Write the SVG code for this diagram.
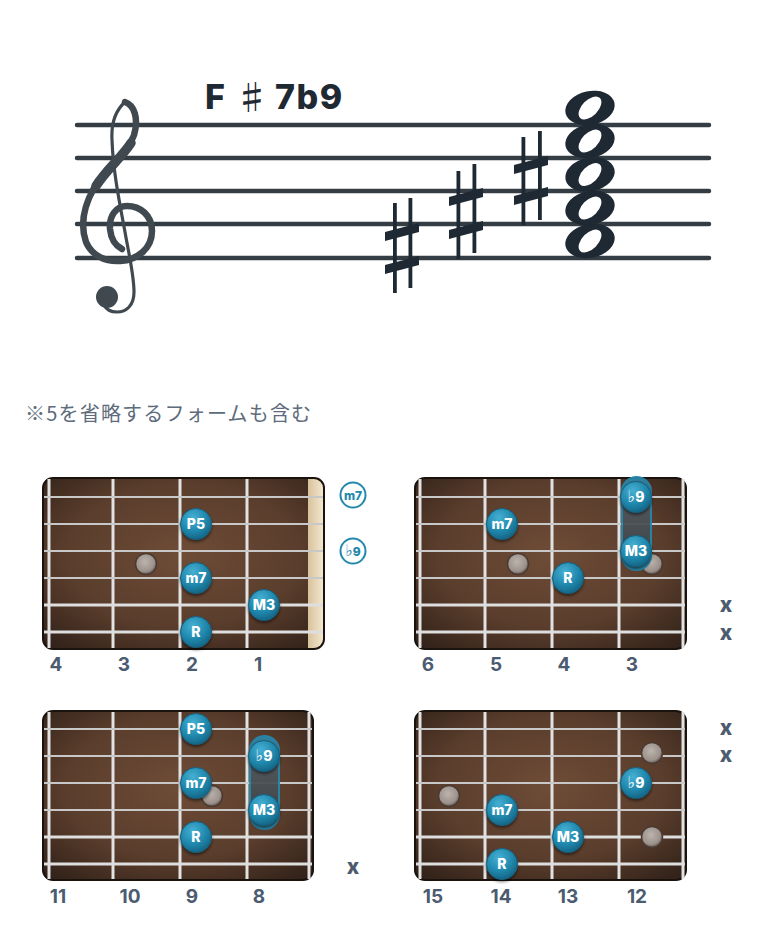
<svg xmlns="http://www.w3.org/2000/svg" width="780" height="946" viewBox="0 0 780 946">
<defs>
<radialGradient id="wood" cx="50%" cy="45%" r="70%">
<stop offset="0" stop-color="#6e4c37"/>
<stop offset="0.6" stop-color="#5a3d2c"/>
<stop offset="1" stop-color="#33231a"/>
</radialGradient>
<radialGradient id="note" cx="40%" cy="30%" r="75%">
<stop offset="0" stop-color="#45b0d3"/>
<stop offset="0.6" stop-color="#1f86ab"/>
<stop offset="1" stop-color="#14607f"/>
</radialGradient>
<radialGradient id="gray" cx="45%" cy="40%" r="60%">
<stop offset="0" stop-color="#bdb4ae"/>
<stop offset="0.75" stop-color="#9c918b"/>
<stop offset="1" stop-color="#5e524b"/>
</radialGradient>
<linearGradient id="barre" x1="0" y1="0" x2="0" y2="1">
<stop offset="0" stop-color="#2b88aa"/>
<stop offset="0.3" stop-color="#50585d"/>
<stop offset="0.7" stop-color="#434a4f"/>
<stop offset="1" stop-color="#2b88aa"/>
</linearGradient>
<linearGradient id="nut" x1="0" y1="0" x2="1" y2="0">
<stop offset="0" stop-color="#d8c29c"/>
<stop offset="1" stop-color="#f3e7cf"/>
</linearGradient>
<filter id="sh" x="-30%" y="-30%" width="160%" height="170%">
<feDropShadow dx="0" dy="2" stdDeviation="1.5" flood-color="#000" flood-opacity="0.5"/>
</filter>
<style>
.staff{stroke:#343c44;stroke-width:4.5;stroke-linecap:round;fill:none}
.sym{fill:#1f2933}
.clef{fill:none;stroke:#40494f;stroke-linecap:round;stroke-linejoin:round}
.board{fill:url(#wood);stroke:#1a120d;stroke-width:2}
.fret{stroke:#e2e2e2;stroke-width:3}
.str{stroke:#c8c8c8;stroke-width:2}
.strw{stroke:#dedede;stroke-width:3}
.nt{fill:url(#note);stroke:#14607f;stroke-width:1;filter:url(#sh)}
.nl{font-family:Inter,"Liberation Sans","DejaVu Sans",sans-serif;font-weight:800;font-size:14px;fill:#ffffff;text-anchor:middle}
.fl{font-family:"DejaVu Sans",sans-serif;font-weight:400;font-size:16px}
.gd{fill:url(#gray);stroke:#4a3b32;stroke-width:1.5}
.br{fill:url(#barre);stroke:#2488ad;stroke-width:2;opacity:0.95}
.num{font-family:Inter,"Liberation Sans",sans-serif;font-weight:700;font-size:19px;fill:#4b5b70;text-anchor:middle}
.mx{font-family:Inter,"Liberation Sans",sans-serif;font-weight:800;font-size:21px;fill:#4b5b70;text-anchor:middle}
.open{fill:#ffffff;stroke:#2488ad;stroke-width:2}
.ol{font-family:Inter,"Liberation Sans","DejaVu Sans",sans-serif;font-weight:800;font-size:12px;fill:#2488ad;text-anchor:middle}
</style>
</defs>
<rect width="780" height="946" fill="#ffffff"/>

<g id="staff">
<text x="205" y="109" font-family="Inter,'Liberation Sans',sans-serif" font-weight="800" font-size="34" fill="#1f2933" letter-spacing="1.5">F<tspan x="235" y="110" font-family="'Noto Sans CJK JP','DejaVu Sans',sans-serif" font-weight="500" font-size="34" letter-spacing="0">♯</tspan><tspan x="275" y="109">7b9</tspan></text>
<line class="staff" x1="77" y1="125" x2="709" y2="125"/>
<line class="staff" x1="77" y1="158" x2="709" y2="158"/>
<line class="staff" x1="77" y1="191" x2="709" y2="191"/>
<line class="staff" x1="77" y1="224" x2="709" y2="224"/>
<line class="staff" x1="77" y1="258" x2="709" y2="258"/>
<g id="clef">
<path class="clef" stroke-width="3.2" d="M125,102 C116,110 111,122 112,140 C113,170 119,200 125,232 C129,255 134,275 134,292 C134,306 126,312 117,312 C111,312 106,309 104,305"/>
<circle cx="107" cy="297" r="11" fill="#40494f"/>
<path class="clef" stroke-width="6.5" d="M125,102 C134,105 139,118 134,135 C128,152 105,168 94,188 C84,206 80,225 86,242 C92,256 106,262 120,261 C138,260 152,248 152,231 C152,215 140,206 127,206 C116,206 109,216 110,229 C111,239 116,246 122,249"/>
<path class="clef" stroke-width="9.5" d="M131,143 C122,157 106,170 96,186"/>
</g>
<g id="sharps" class="sym">
<rect x="393" y="203" width="3.8" height="90"/>
<rect x="408.5" y="198" width="3.8" height="90"/>
<polygon points="385,232 419,223 419,232 385,241"/>
<polygon points="385,265 419,256 419,265 385,274"/>
<rect x="456.5" y="171" width="3.8" height="88"/>
<rect x="472.5" y="164" width="3.8" height="89"/>
<polygon points="449,197 483,188 483,197 449,206"/>
<polygon points="449,230 483,221 483,230 449,239"/>
<rect x="521.5" y="137" width="3.8" height="88"/>
<rect x="538" y="131" width="3.8" height="89"/>
<polygon points="514,165 548,156 548,165 514,174"/>
<polygon points="514,196 548,187 548,196 514,205"/>
</g>
<g id="chord">
<ellipse cx="590" cy="108" rx="25" ry="16.8" transform="rotate(-12 590 108)" fill="#1f2933"/>
<ellipse cx="590" cy="108" rx="14" ry="8" transform="rotate(-45 590 108)" fill="#ffffff"/>
<ellipse cx="590" cy="141" rx="25" ry="16.8" transform="rotate(-12 590 141)" fill="#1f2933"/>
<ellipse cx="590" cy="141" rx="14" ry="8" transform="rotate(-45 590 141)" fill="#ffffff"/>
<ellipse cx="590" cy="174.5" rx="25" ry="16.8" transform="rotate(-12 590 174.5)" fill="#1f2933"/>
<ellipse cx="590" cy="174.5" rx="14" ry="8" transform="rotate(-45 590 174.5)" fill="#ffffff"/>
<ellipse cx="590" cy="208" rx="25" ry="16.8" transform="rotate(-12 590 208)" fill="#1f2933"/>
<ellipse cx="590" cy="208" rx="14" ry="8" transform="rotate(-45 590 208)" fill="#ffffff"/>
<ellipse cx="590" cy="241" rx="25" ry="16.8" transform="rotate(-12 590 241)" fill="#1f2933"/>
<ellipse cx="590" cy="241" rx="14" ry="8" transform="rotate(-45 590 241)" fill="#ffffff"/>
</g>
</g>

<text id="note-text" x="25" y="421" font-family="'Noto Sans CJK JP','Noto Sans',sans-serif" font-size="20" letter-spacing="1.2" fill="#5d6b7b">※5を省略するフォームも含む</text>

<g id="board1">
<rect class="board" x="43" y="478" width="281" height="171" rx="10"/>
<path d="M308,479 H314 A9,9 0 0 1 323,488 V639 A9,9 0 0 1 314,648 H308 Z" fill="url(#nut)"/>
<line class="fret" x1="49" y1="479" x2="49" y2="648"/>
<line class="fret" x1="113" y1="479" x2="113" y2="648"/>
<line class="fret" x1="180" y1="479" x2="180" y2="648"/>
<line class="fret" x1="247" y1="479" x2="247" y2="648"/>
<line class="str" x1="44" y1="497" x2="323" y2="497"/>
<line class="str" x1="44" y1="524" x2="323" y2="524"/>
<line class="str" x1="44" y1="551" x2="323" y2="551"/>
<line class="str" x1="44" y1="578" x2="323" y2="578"/>
<line class="strw" x1="44" y1="605" x2="323" y2="605"/>
<line class="strw" x1="44" y1="632" x2="323" y2="632"/>
<circle class="gd" cx="146" cy="564" r="10.5"/>
<circle class="nt" cx="196" cy="524" r="15.5"/><text class="nl" x="196" y="529">P5</text>
<circle class="nt" cx="196" cy="578" r="15.5"/><text class="nl" x="196" y="583">m7</text>
<circle class="nt" cx="264" cy="605" r="15.5"/><text class="nl" x="264" y="610">M3</text>
<circle class="nt" cx="196" cy="632" r="15.5"/><text class="nl" x="196" y="637">R</text>
<circle class="open" cx="353" cy="495" r="12.5"/><text class="ol" x="353" y="499.5">m7</text>
<circle class="open" cx="353" cy="551" r="12.5"/><text class="ol" x="353" y="555.5"><tspan class="fl" font-size="14">♭</tspan>9</text>
<text class="num" x="56" y="671">4</text>
<text class="num" x="124" y="671">3</text>
<text class="num" x="192" y="671">2</text>
<text class="num" x="258" y="671">1</text>
</g>

<g id="board2">
<rect class="board" x="415" y="478" width="271" height="171" rx="10"/>
<line class="fret" x1="420" y1="479" x2="420" y2="648"/>
<line class="fret" x1="485" y1="479" x2="485" y2="648"/>
<line class="fret" x1="552" y1="479" x2="552" y2="648"/>
<line class="fret" x1="619" y1="479" x2="619" y2="648"/>
<line class="fret" x1="683" y1="479" x2="683" y2="648"/>
<line class="str" x1="416" y1="497" x2="685" y2="497"/>
<line class="str" x1="416" y1="524" x2="685" y2="524"/>
<line class="str" x1="416" y1="551" x2="685" y2="551"/>
<line class="str" x1="416" y1="578" x2="685" y2="578"/>
<line class="strw" x1="416" y1="605" x2="685" y2="605"/>
<line class="strw" x1="416" y1="632" x2="685" y2="632"/>
<circle class="gd" cx="518" cy="564" r="10.5"/>
<circle class="gd" cx="652" cy="564" r="10.5"/>
<rect class="br" x="622" y="477" width="29" height="93" rx="14.5"/>
<circle class="nt" cx="636" cy="497" r="15.5"/><text class="nl" x="636" y="502"><tspan class="fl">♭</tspan>9</text>
<circle class="nt" cx="502" cy="524" r="15.5"/><text class="nl" x="502" y="529">m7</text>
<circle class="nt" cx="636" cy="551" r="15.5"/><text class="nl" x="636" y="556">M3</text>
<circle class="nt" cx="568" cy="578" r="15.5"/><text class="nl" x="568" y="583">R</text>
<text class="mx" x="726" y="612">x</text>
<text class="mx" x="726" y="640">x</text>
<text class="num" x="428" y="671">6</text>
<text class="num" x="496" y="671">5</text>
<text class="num" x="564" y="671">4</text>
<text class="num" x="632" y="671">3</text>
</g>

<g id="board3">
<rect class="board" x="43" y="711" width="270" height="169" rx="10"/>
<line class="fret" x1="49" y1="712" x2="49" y2="879"/>
<line class="fret" x1="113" y1="712" x2="113" y2="879"/>
<line class="fret" x1="180" y1="712" x2="180" y2="879"/>
<line class="fret" x1="247" y1="712" x2="247" y2="879"/>
<line class="fret" x1="309" y1="712" x2="309" y2="879"/>
<line class="str" x1="44" y1="729" x2="312" y2="729"/>
<line class="str" x1="44" y1="756" x2="312" y2="756"/>
<line class="str" x1="44" y1="783" x2="312" y2="783"/>
<line class="str" x1="44" y1="810" x2="312" y2="810"/>
<line class="strw" x1="44" y1="837" x2="312" y2="837"/>
<line class="strw" x1="44" y1="864" x2="312" y2="864"/>
<circle class="gd" cx="212" cy="796" r="10.5"/>
<rect class="br" x="250" y="736" width="29" height="93" rx="14.5"/>
<circle class="nt" cx="196" cy="729" r="15.5"/><text class="nl" x="196" y="734">P5</text>
<circle class="nt" cx="264" cy="756" r="15.5"/><text class="nl" x="264" y="761"><tspan class="fl">♭</tspan>9</text>
<circle class="nt" cx="196" cy="783" r="15.5"/><text class="nl" x="196" y="788">m7</text>
<circle class="nt" cx="264" cy="810" r="15.5"/><text class="nl" x="264" y="815">M3</text>
<circle class="nt" cx="196" cy="837" r="15.5"/><text class="nl" x="196" y="842">R</text>
<text class="mx" x="353" y="874">x</text>
<text class="num" x="58" y="903">11</text>
<text class="num" x="130" y="903">10</text>
<text class="num" x="192" y="903">9</text>
<text class="num" x="259" y="903">8</text>
</g>

<g id="board4">
<rect class="board" x="415" y="711" width="271" height="169" rx="10"/>
<line class="fret" x1="420" y1="712" x2="420" y2="879"/>
<line class="fret" x1="485" y1="712" x2="485" y2="879"/>
<line class="fret" x1="552" y1="712" x2="552" y2="879"/>
<line class="fret" x1="619" y1="712" x2="619" y2="879"/>
<line class="fret" x1="683" y1="712" x2="683" y2="879"/>
<line class="str" x1="416" y1="729" x2="685" y2="729"/>
<line class="str" x1="416" y1="756" x2="685" y2="756"/>
<line class="str" x1="416" y1="783" x2="685" y2="783"/>
<line class="str" x1="416" y1="810" x2="685" y2="810"/>
<line class="strw" x1="416" y1="837" x2="685" y2="837"/>
<line class="strw" x1="416" y1="864" x2="685" y2="864"/>
<circle class="gd" cx="652" cy="753" r="10.5"/>
<circle class="gd" cx="449" cy="796" r="10.5"/>
<circle class="gd" cx="652" cy="837" r="10.5"/>
<circle class="nt" cx="636" cy="783" r="15.5"/><text class="nl" x="636" y="788"><tspan class="fl">♭</tspan>9</text>
<circle class="nt" cx="502" cy="810" r="15.5"/><text class="nl" x="502" y="815">m7</text>
<circle class="nt" cx="568" cy="837" r="15.5"/><text class="nl" x="568" y="842">M3</text>
<circle class="nt" cx="502" cy="864" r="15.5"/><text class="nl" x="502" y="869">R</text>
<text class="mx" x="726" y="735">x</text>
<text class="mx" x="726" y="762">x</text>
<text class="num" x="433" y="903">15</text>
<text class="num" x="501" y="903">14</text>
<text class="num" x="568" y="903">13</text>
<text class="num" x="637" y="903">12</text>
</g>
<g id="connectors"/>
</svg>
